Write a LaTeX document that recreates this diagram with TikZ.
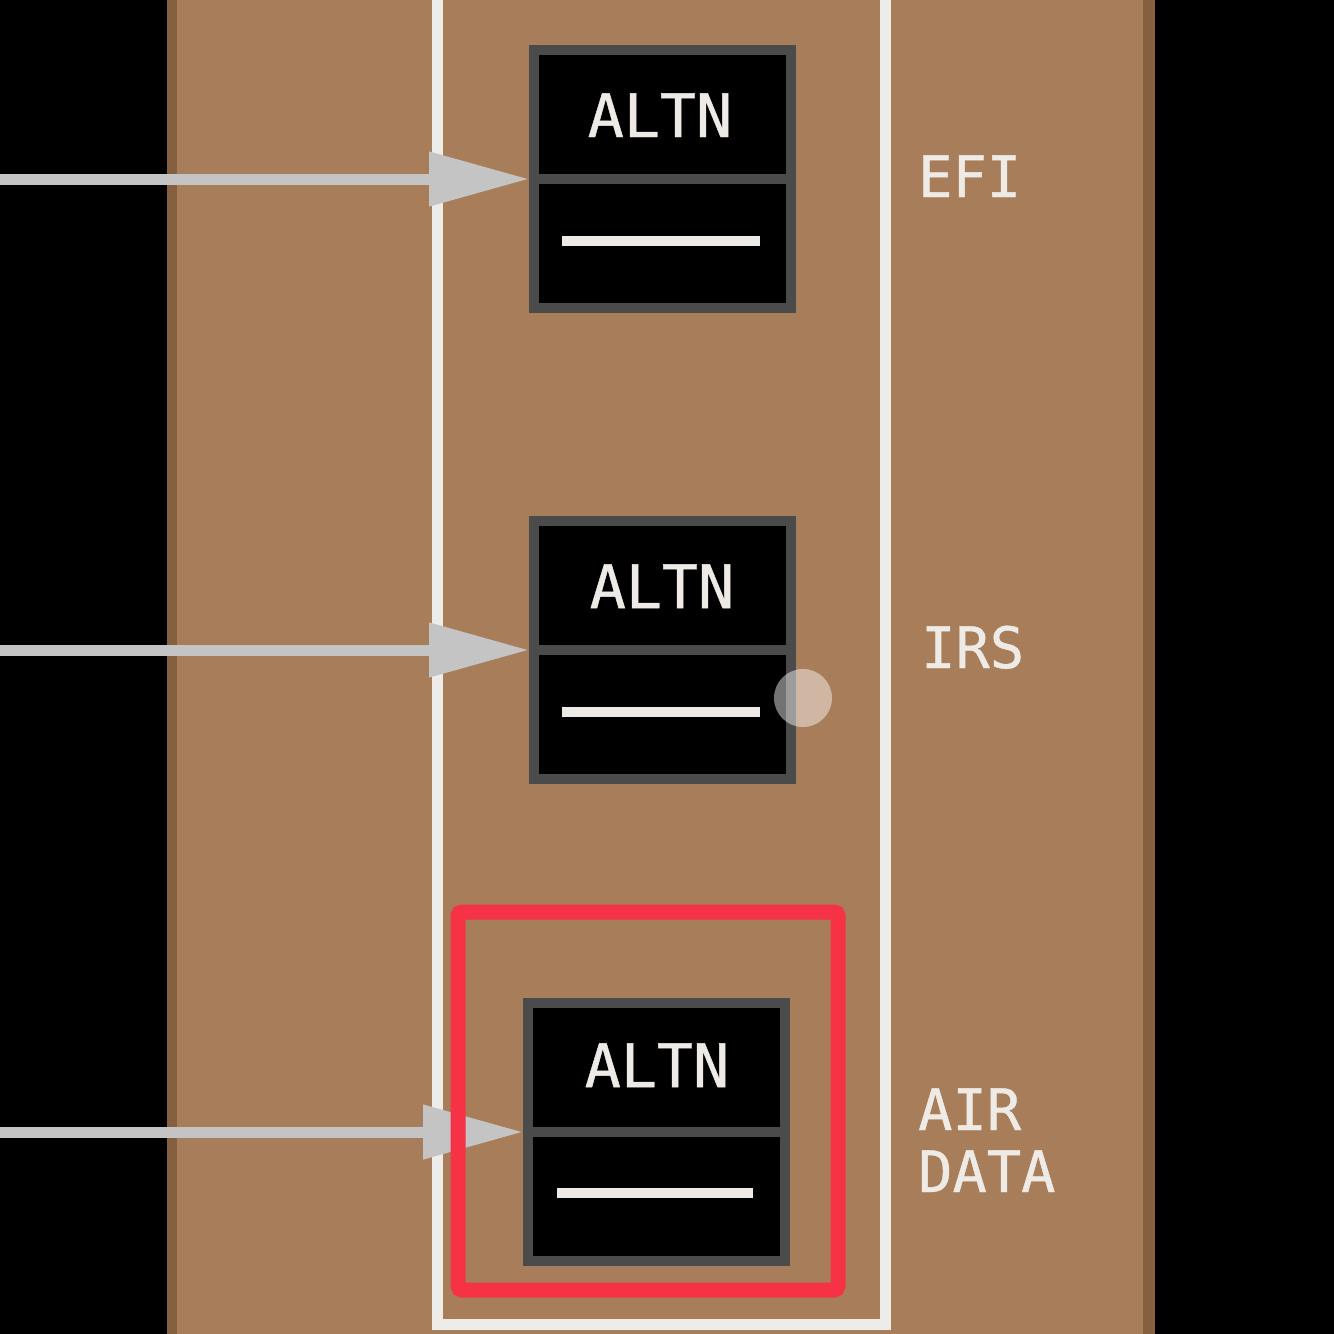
\documentclass[tikz,border=0pt]{standalone}
\usepackage{fontspec}
\newfontfamily\dmono[FakeBold=0.8]{DejaVu Sans Mono}
\usetikzlibrary{arrows.meta}
\definecolor{panelbrown}{RGB}{168,125,90}
\definecolor{edgebrown}{RGB}{132,96,65}
\definecolor{framewhite}{RGB}{238,236,233}
\definecolor{conngray}{RGB}{196,196,196}
\definecolor{boxgray}{RGB}{75,75,75}
\definecolor{hlred}{RGB}{245,50,70}
\definecolor{txtwhite}{RGB}{238,234,230}
\tikzset{
  switchbox/.style={rectangle, draw=boxgray, line width=10pt, fill=black,
    minimum width=257pt, minimum height=258pt, inner sep=0pt},
  conn/.style={draw=conngray, line width=11pt,
    -{Triangle[length=100pt,width=52pt,fill=conngray]}},
  divider/.style={draw=boxgray, line width=10pt},
  bar/.style={draw=txtwhite, line width=10pt},
  boxtext/.style={text=txtwhite, font=\dmono\fontsize{60}{60}\selectfont, inner sep=0pt, anchor=base},
  label/.style={text=txtwhite, font=\dmono\fontsize{57}{62}\selectfont, inner sep=0pt, anchor=base west, align=left},
}
\begin{document}
\begin{tikzpicture}[x=1pt,y=-1pt]
\useasboundingbox (0,0) rectangle (1334,1334);
\fill[black] (0,0) rectangle (1334,1334);
% panel
\fill[panelbrown] (167,0) rectangle (1155,1334);
\fill[edgebrown] (167,0) rectangle (177,1334);
\fill[edgebrown] (1143,0) rectangle (1155,1334);
% white frame open at the top
\draw[framewhite, line width=11pt] (437.5,-10) -- (437.5,1324) -- (885,1324) -- (885,-10);
% boxes
\node[switchbox] (b1) at (662.5,179) {};
\node[switchbox] (b2) at (662.5,650) {};
\node[switchbox] (b3) at (656.5,1132) {};
% connectors
\coordinate (s1) at (-10,179);
\coordinate (s2) at (-10,650);
\coordinate (s3) at (-10,1132);
\draw[conn] (s1) -- (b1.west);
\draw[conn] (s2) -- (b2.west);
\draw[conn] (s3) -- (b3.west);
% dividers
\foreach \b in {b1,b2,b3}{
  \draw[divider] (\b.west) ++(5,0) -- ([xshift=-5pt]\b.east);
}
% texts and bars
\node[boxtext] (t1) at (660,137) {ALTN};
\node[boxtext] (t2) at (662,608) {ALTN};
\node[boxtext] (t3) at (657,1087) {ALTN};
\draw[bar] (562,241) -- (760,241);
\draw[bar] (562,712) -- (760,712);
\draw[bar] (557,1193) -- (753,1193);
% touch marker
\fill[white, opacity=0.45] (803,698) circle (29);
% highlight
\draw[hlred, line width=15pt, rounded corners=4pt] (458,912) rectangle (838,1290);
% labels
\node[label] (l1) at (918,197) {EFI};
\node[label] (l2) at (921,668) {IRS};
\node[label] (l3) at (918,1192) {AIR\\DATA};
\end{tikzpicture}
\end{document}
